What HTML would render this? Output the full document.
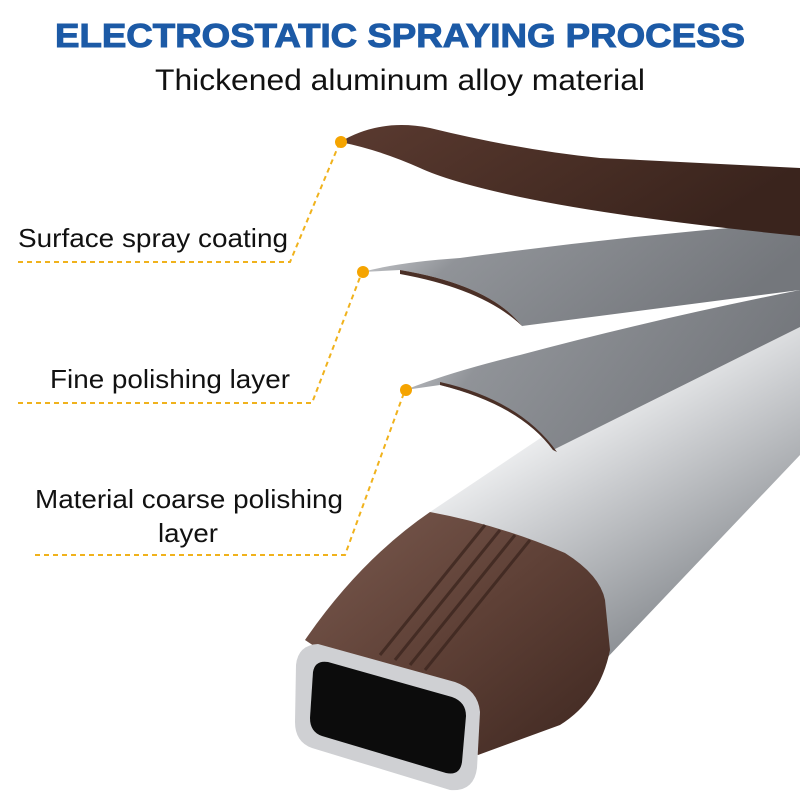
<!DOCTYPE html>
<html><head><meta charset="utf-8"><style>
html,body{margin:0;padding:0;background:#fff}
svg{display:block}
</style></head><body>
<svg width="800" height="800" viewBox="0 0 800 800" xmlns="http://www.w3.org/2000/svg">
<defs>
<linearGradient id="silver" x1="0" y1="0" x2="0.6" y2="1">
<stop offset="0" stop-color="#a4a7ab"/><stop offset="0.35" stop-color="#f6f7f8"/><stop offset="0.6" stop-color="#c9cbce"/><stop offset="1" stop-color="#83878c"/>
</linearGradient>
<linearGradient id="gray1" x1="0" y1="0" x2="1" y2="0.3">
<stop offset="0" stop-color="#dcdde0"/><stop offset="0.3" stop-color="#909398"/><stop offset="1" stop-color="#74777c"/>
</linearGradient>
<linearGradient id="brownG" x1="0" y1="0" x2="1" y2="0.4">
<stop offset="0" stop-color="#5a3a30"/><stop offset="0.5" stop-color="#4a2f26"/><stop offset="1" stop-color="#3a241d"/>
</linearGradient>
<linearGradient id="cap" x1="0" y1="0" x2="1" y2="1">
<stop offset="0" stop-color="#7a5a4f"/><stop offset="0.5" stop-color="#5e4036"/><stop offset="1" stop-color="#3e2720"/>
</linearGradient>
</defs>
<text x="55" y="47" textLength="690" lengthAdjust="spacingAndGlyphs" font-family="Liberation Sans, sans-serif" font-weight="900" font-size="33" fill="#1c5aa6" stroke="#1c5aa6" stroke-width="1">ELECTROSTATIC SPRAYING PROCESS</text>
<text x="155" y="90" textLength="490" lengthAdjust="spacingAndGlyphs" font-family="Liberation Sans, sans-serif" font-size="30" fill="#111">Thickened aluminum alloy material</text>

<polygon points="430,512 560,425 800,300 800,455 605,660 600,590" fill="url(#silver)"/>
<path d="M405,390 Q450,372 520,355 Q650,320 800,290 L800,327 L553,450 Q520,405 440,385 Z" fill="url(#gray1)"/>
<path d="M440,385 Q520,405 553,450 L557,452 Q520,400 440,382 Z" fill="#4a2f26"/>
<path d="M362,272 Q400,262 460,258 Q630,235 800,222 L800,290 L522,326 Q490,285 400,270 Z" fill="url(#gray1)"/>
<path d="M400,270 Q490,285 522,326 L526,330 Q488,290 400,274 Z" fill="#4a2f26"/>
<path d="M340,142 Q380,118 430,128 Q520,150 600,158 L800,168 L800,236 Q620,218 520,197 Q450,182 420,168 Q380,150 340,142 Z" fill="url(#brownG)"/>
<path d="M305,640 Q360,560 430,512 Q500,525 565,553 Q600,575 605,600 L610,650 Q600,700 560,725 L478,755 Z" fill="url(#cap)"/>
<g stroke="#3a241d" stroke-width="3" fill="none" opacity="0.75">
<path d="M485,525 L380,655"/><path d="M500,530 L395,660"/><path d="M515,535 L410,665"/><path d="M530,540 L425,670"/>
</g>
<path d="M296,665 Q298,645 318,644 L455,682 Q478,690 480,712 L477,768 Q474,792 450,790 L312,748 Q295,742 295,722 Z" fill="#cfd0d3"/>
<path d="M313,672 Q315,660 328,662 L452,697 Q466,702 466,716 L462,762 Q460,776 446,773 L322,736 Q310,732 310,718 Z" fill="#0c0c0c"/>

<g stroke="#f0b21c" stroke-width="2" stroke-dasharray="5,4" fill="none">
<polyline points="18,262 290,262 340,142"/>
<polyline points="18,403 312,403 362,272"/>
<polyline points="35,555 345,555 405,390"/>
</g>
<g fill="#f5a400">
<circle cx="341" cy="142" r="6"/><circle cx="363" cy="272" r="6"/><circle cx="406" cy="390" r="6"/>
</g>
<g font-family="Liberation Sans, sans-serif" font-size="26" fill="#111">
<text x="18" y="247" textLength="270" lengthAdjust="spacingAndGlyphs">Surface spray coating</text>
<text x="50" y="388" textLength="240" lengthAdjust="spacingAndGlyphs">Fine polishing layer</text>
<text x="35" y="508" textLength="308" lengthAdjust="spacingAndGlyphs">Material coarse polishing</text>
<text x="158" y="542" textLength="60" lengthAdjust="spacingAndGlyphs">layer</text>
</g>
</svg>
</body></html>
